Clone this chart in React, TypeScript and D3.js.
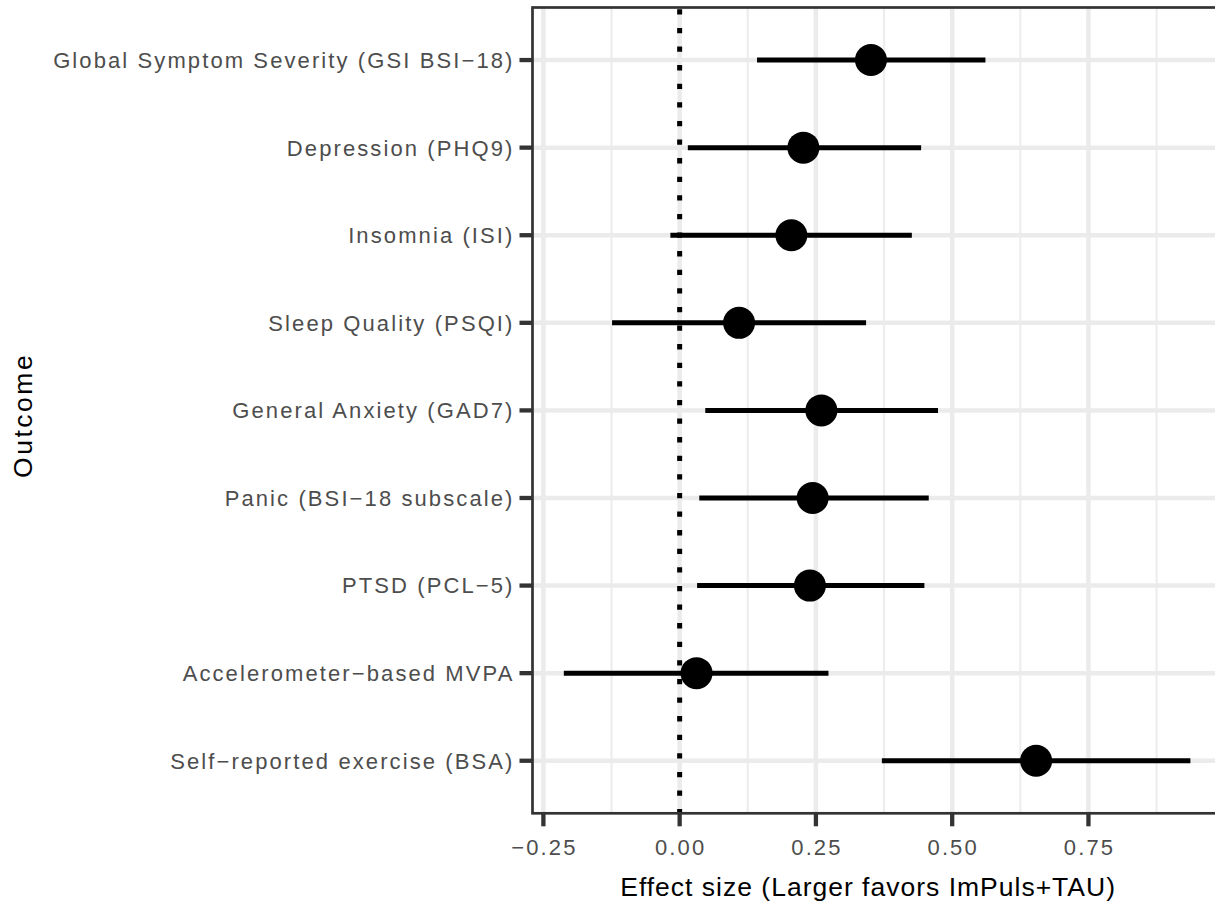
import React from "react";
import * as d3 from "d3";

const outcomes = [
  "Global Symptom Severity (GSI BSI\u221218)",
  "Depression (PHQ9)",
  "Insomnia (ISI)",
  "Sleep Quality (PSQI)",
  "General Anxiety (GAD7)",
  "Panic (BSI\u221218 subscale)",
  "PTSD (PCL\u22125)",
  "Accelerometer\u2212based MVPA",
  "Self\u2212reported exercise (BSA)",
];
const estimates = [0.351, 0.227, 0.205, 0.109, 0.26, 0.244, 0.239, 0.031, 0.654];
const lowers = [0.142, 0.015, -0.017, -0.124, 0.047, 0.036, 0.032, -0.2125, 0.371];
const uppers = [0.561, 0.443, 0.426, 0.342, 0.474, 0.457, 0.449, 0.273, 0.937];
const xTicks = [-0.25, 0, 0.25, 0.5, 0.75];
const xMinorTicks = [-0.125, 0.125, 0.375, 0.625, 0.875];
const xTitle = "Effect size (Larger favors ImPuls+TAU)";
const yTitle = "Outcome";

const W = 1215;
const H = 903;
const panel = { left: 532.5, top: 7.5, right: 1221.7, bottom: 813.3 };

export default function App() {
  const lo = d3.min(lowers) as number;
  const hi = d3.max(uppers) as number;
  const pad = (hi - lo) * 0.05;
  const x = d3.scaleLinear().domain([lo - pad, hi + pad]).range([panel.left, panel.right]);
  const y = d3
    .scalePoint<string>()
    .domain(outcomes)
    .range([panel.top, panel.bottom])
    .padding(0.6);

  const fmt = d3.format(".2f");
  const tickFont = "Liberation Sans, Arial, sans-serif";

  return (
    <svg
      width={W}
      height={H}
      style={{ position: "absolute", left: 0, top: 0, display: "block", background: "#fff" }}
    >
      <defs>
        <clipPath id="pclip">
          <rect x={panel.left} y={panel.top} width={panel.right - panel.left} height={panel.bottom - panel.top} />
        </clipPath>
      </defs>
      <rect x={0} y={0} width={W} height={H} fill="#fff" />
      <g clipPath="url(#pclip)">
        {xMinorTicks.map((t) => (
          <line key={"mi" + t} x1={x(t)} x2={x(t)} y1={panel.top} y2={panel.bottom} stroke="#ededed" strokeWidth={2.2} />
        ))}
        {xTicks.map((t) => (
          <line key={"ma" + t} x1={x(t)} x2={x(t)} y1={panel.top} y2={panel.bottom} stroke="#ebebeb" strokeWidth={4.5} />
        ))}
        {outcomes.map((o) => (
          <line key={"hg" + o} x1={panel.left} x2={panel.right} y1={y(o)} y2={y(o)} stroke="#ebebeb" strokeWidth={4.5} />
        ))}
        <line
          x1={x(0)}
          x2={x(0)}
          y1={panel.top}
          y2={panel.bottom}
          stroke="#000"
          strokeWidth={5}
          strokeDasharray="5.3 13.3"
          strokeDashoffset={-1.8}
        />
        {outcomes.map((o, i) => (
          <g key={"pr" + o}>
            <line x1={x(lowers[i])} x2={x(uppers[i])} y1={y(o)} y2={y(o)} stroke="#000" strokeWidth={5} />
            <circle cx={x(estimates[i])} cy={y(o)} r={16} fill="#000" />
          </g>
        ))}
      </g>
      <rect
        x={panel.left}
        y={panel.top}
        width={panel.right - panel.left}
        height={panel.bottom - panel.top}
        fill="none"
        stroke="#333"
        strokeWidth={2.7}
      />
      {outcomes.map((o) => (
        <g key={"yt" + o}>
          <line x1={panel.left - 13} x2={panel.left} y1={y(o)} y2={y(o)} stroke="#333" strokeWidth={4.3} />
          <text
            x={panel.left - 18}
            y={y(o)}
            dy="0.36em"
            textAnchor="end"
            fontFamily={tickFont}
            fontSize={22}
            letterSpacing={2.1}
            fill="#4d4d4d"
          >
            {o}
          </text>
        </g>
      ))}
      {xTicks.map((t) => (
        <g key={"xt" + t}>
          <line x1={x(t)} x2={x(t)} y1={panel.bottom} y2={panel.bottom + 13} stroke="#333" strokeWidth={4.3} />
          <text
            x={x(t) + 1}
            y={855}
            textAnchor="middle"
            fontFamily={tickFont}
            fontSize={22}
            letterSpacing={2.1}
            fill="#4d4d4d"
          >
            {t < 0 ? "\u2212" + fmt(-t) : fmt(t)}
          </text>
        </g>
      ))}
      <text
        x={(panel.left + panel.right) / 2 - 9}
        y={896}
        textAnchor="middle"
        fontFamily={tickFont}
        fontSize={26.5}
        letterSpacing={1.0}
        fill="#000"
      >
        {xTitle}
      </text>
      <text
        transform={`translate(32,${(panel.top + panel.bottom) / 2 + 5}) rotate(-90)`}
        textAnchor="middle"
        fontFamily={tickFont}
        fontSize={26.5}
        letterSpacing={2.5}
        fill="#000"
      >
        {yTitle}
      </text>
    </svg>
  );
}
